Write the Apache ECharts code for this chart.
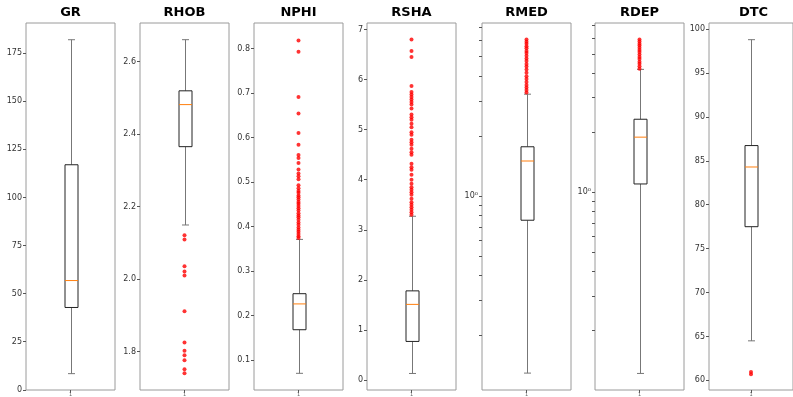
<!DOCTYPE html>
<html>
<head>
<meta charset="utf-8">
<script src="https://cdn.jsdelivr.net/npm/echarts@6/dist/echarts.min.js"></script>
<style>
  html, body { margin: 0; padding: 0; background: #fff; }
  #main { width: 793px; height: 397px; }
</style>
</head>
<body>
<div id="main"></div>
<script>
// well log columns
const titles = ['GR', 'RHOB', 'NPHI', 'RSHA', 'RMED', 'RDEP', 'DTC'];

// [min whisker, Q1, median, Q3, max whisker]
const grBox = [8.4, 42.8, 56.8, 117, 182];
const rhobBox = [2.149, 2.365, 2.481, 2.519, 2.66];
const nphiBox = [0.070, 0.168, 0.226, 0.249, 0.371];
const rshaBox = [0.13, 0.77, 1.51, 1.78, 3.27];
const rmedBox = [0.13, 0.757, 1.498, 1.765, 3.236];
const rdepBox = [0.1217, 1.101, 1.897, 2.336, 4.17];
const dtcBox = [64.5, 77.5, 84.3, 86.74, 98.8];

// fliers
const grOut = [];
const rhobOut = [2.121, 2.109, 2.035, 2.021, 2.010, 1.911, 1.825, 1.802, 1.790, 1.776, 1.751, 1.740];
const nphiOut = [0.818, 0.793, 0.691, 0.654, 0.610, 0.584, 0.561, 0.554, 0.543, 0.528, 0.519, 0.513,
  0.506, 0.493, 0.486, 0.480, 0.476, 0.470, 0.466, 0.461, 0.455, 0.451, 0.446, 0.441, 0.436, 0.430,
  0.425, 0.421, 0.415, 0.409, 0.404, 0.398, 0.393, 0.388, 0.383, 0.378, 0.374];
const rshaOut = [6.8, 6.57, 6.45, 5.87, 5.75, 5.7, 5.65, 5.6, 5.55, 5.5, 5.42, 5.3, 5.25, 5.2, 5.12,
  5.05, 4.95, 4.9, 4.8, 4.75, 4.7, 4.62, 4.55, 4.5, 4.32, 4.25, 4.2, 4.1, 4.0, 3.92, 3.85, 3.8, 3.75,
  3.7, 3.62, 3.55, 3.5, 3.45, 3.4, 3.35, 3.3];
const rmedOut = [6.07, 5.92, 5.78, 5.62, 5.5, 5.33, 5.2, 5.04, 4.88, 4.74, 4.58, 4.45, 4.3, 4.14,
  3.98, 3.85, 3.72, 3.6, 3.5, 3.4, 3.3];
const rdepOut = [5.9, 5.76, 5.62, 5.5, 5.36, 5.22, 5.1, 4.96, 4.82, 4.7, 4.56, 4.45, 4.32, 4.2];
const dtcOut = [60.95, 60.7];

// tick labels
const grTicks = [0, 25, 50, 75, 100, 125, 150, 175];
const rhobTicks = [1.8, 2.0, 2.2, 2.4, 2.6];
const nphiTicks = [0.1, 0.2, 0.3, 0.4, 0.5, 0.6, 0.7, 0.8];
const rshaTicks = [0, 1, 2, 3, 4, 5, 6, 7];
const logMajor = [1];
const logMinor = [0.2, 0.3, 0.4, 0.5, 0.6, 0.7, 0.8, 0.9, 1, 2, 3, 4, 5, 6, 7];
const dtcTicks = [60, 65, 70, 75, 80, 85, 90, 95, 100];

const boxes = [grBox, rhobBox, nphiBox, rshaBox, rmedBox, rdepBox, dtcBox];
const fliers = [grOut, rhobOut, nphiOut, rshaOut, rmedOut, rdepOut, dtcOut];

const axisSpecs = [
  { type: 'value', min: -0.1, max: 190.7, ticks: grTicks, fmt: v => String(v) },
  { type: 'value', min: 1.694, max: 2.706, ticks: rhobTicks, fmt: v => Number(v).toFixed(1) },
  { type: 'value', min: 0.0325, max: 0.8575, ticks: nphiTicks, fmt: v => Number(v).toFixed(1) },
  { type: 'value', min: -0.2, max: 7.13, ticks: rshaTicks, fmt: v => String(v) },
  { type: 'log', min: 0.107, max: 7.35, ticks: logMajor, minor: logMinor, fmt: () => '10⁰' },
  { type: 'log', min: 0.1004, max: 7.15, ticks: logMajor, minor: logMinor, fmt: () => '10⁰' },
  { type: 'value', min: 58.9, max: 100.7, ticks: dtcTicks, fmt: v => String(v) }
];

const lefts = [26, 140, 254, 367, 482, 595, 709];
const panelW = 89;
const font = 'DejaVu Sans';

const renderBox = (params, api) => {
  const x = api.value(0);
  const pMin = api.coord([x, api.value(1)]);
  const pQ1 = api.coord([x, api.value(2)]);
  const pMed = api.coord([x, api.value(3)]);
  const pQ3 = api.coord([x, api.value(4)]);
  const pMax = api.coord([x, api.value(5)]);
  const cx = Math.round(pMin[0]) + 0.5;
  const half = 6.5, cap = 3.5;
  const wStyle = { stroke: '#777', lineWidth: 1 };
  return {
    type: 'group',
    children: [
      { type: 'line', shape: { x1: cx, y1: pMin[1], x2: cx, y2: pQ1[1] }, style: wStyle },
      { type: 'line', shape: { x1: cx, y1: pQ3[1], x2: cx, y2: pMax[1] }, style: wStyle },
      { type: 'line', shape: { x1: cx - cap, y1: pMin[1], x2: cx + cap, y2: pMin[1] }, style: wStyle },
      { type: 'line', shape: { x1: cx - cap, y1: pMax[1], x2: cx + cap, y2: pMax[1] }, style: wStyle },
      { type: 'rect', shape: { x: cx - half, y: pQ3[1], width: half * 2, height: pQ1[1] - pQ3[1] },
        style: { fill: '#fff', stroke: '#222', lineWidth: 1 } },
      { type: 'line', shape: { x1: cx - half, y1: pMed[1], x2: cx + half, y2: pMed[1] },
        style: { stroke: '#ff7f0e', lineWidth: 1 } }
    ]
  };
};

const option = {
  animation: false,
  title: titles.map((t, i) => ({
    text: t,
    left: lefts[i] + panelW / 2,
    top: 6,
    padding: 0,
    textAlign: 'center',
    textStyle: { fontSize: 13, fontWeight: 'bold', fontFamily: font, color: '#000' }
  })),
  grid: lefts.map(l => ({
    left: l, top: 23, width: panelW, height: 368,
    show: true, borderColor: '#9a9a9a', borderWidth: 1, backgroundColor: 'transparent'
  })),
  xAxis: titles.map((t, i) => ({
    type: 'category',
    gridIndex: i,
    data: ['1'],
    axisLine: { show: false, onZero: false },
    axisTick: { show: true, alignWithLabel: true, length: 3, lineStyle: { color: '#555' } },
    axisLabel: { fontSize: 5, color: '#666', margin: 2, fontFamily: font },
    splitLine: { show: false }
  })),
  yAxis: axisSpecs.map((s, i) => ({
    type: s.type,
    gridIndex: i,
    min: s.min,
    max: s.max,
    logBase: 10,
    axisLine: { show: false, onZero: false },
    axisTick: {
      show: true, length: 3, lineStyle: { color: '#555' },
      customValues: s.minor || s.ticks
    },
    axisLabel: {
      customValues: s.ticks,
      formatter: s.fmt,
      fontSize: 8, color: '#333', fontFamily: font, margin: 4
    },
    splitLine: { show: false },
    minorTick: { show: false },
    minorSplitLine: { show: false }
  })),
  series: []
};

boxes.forEach((b, i) => {
  option.series.push({
    type: 'custom',
    xAxisIndex: i,
    yAxisIndex: i,
    renderItem: renderBox,
    encode: { x: 0, y: [1, 2, 3, 4, 5] },
    data: [[0].concat(b)],
    z: 2
  });
  option.series.push({
    type: 'scatter',
    xAxisIndex: i,
    yAxisIndex: i,
    symbol: 'circle',
    symbolSize: 4,
    itemStyle: { color: '#ff0000' },
    data: fliers[i].map(v => [0, v]),
    z: 3
  });
});

const myChart = echarts.init(document.getElementById('main'));
myChart.setOption(option);
</script>
</body>
</html>
